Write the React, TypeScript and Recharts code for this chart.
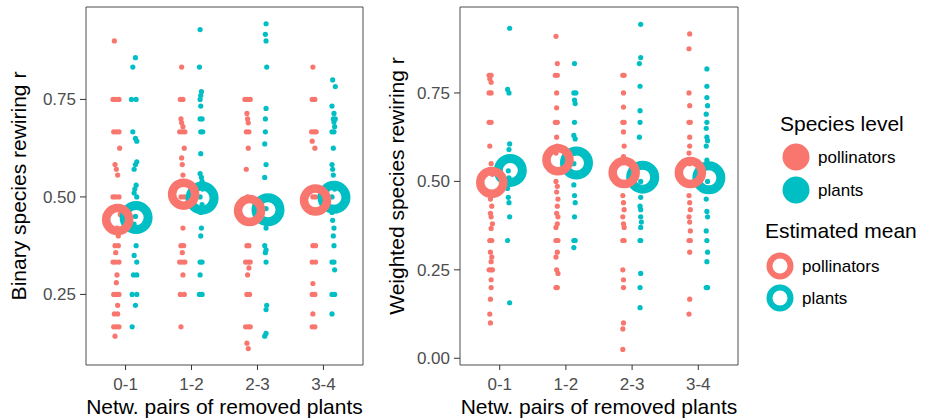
import React from "react";
import { ReferenceArea, Scatter, ScatterChart, XAxis, YAxis } from "recharts";

const pollColor = "#F8766D";
const plantColor = "#00BFC4";
const font = '"Liberation Sans", Arial, Helvetica, sans-serif';

const categories = ["0-1", "1-2", "2-3", "3-4"];
const binaryTicks = [0.25, 0.5, 0.75];
const weightedTicks = [0, 0.25, 0.5, 0.75];

// [category (1..4), rewiring r, horizontal jitter]
type Row = [number, number, number];

const binaryPollinators: Row[] = [
  [1, 0.9, -0.04], [1, 0.75, -0.06], [1, 0.75, -0.02], [1, 0.75, 0.03], [1, 0.667, -0.05], [1, 0.667, -0.01],
  [1, 0.667, 0.03], [1, 0.625, 0.04], [1, 0.583, -0.03], [1, 0.571, -0.01], [1, 0.556, 0.01], [1, 0.5, -0.06],
  [1, 0.5, -0.02], [1, 0.5, 0.03], [1, 0.455, 0.05], [1, 0.42, 0.0], [1, 0.4, 0.02], [1, 0.375, -0.03],
  [1, 0.375, 0.02], [1, 0.357, -0.02], [1, 0.333, -0.06], [1, 0.333, -0.02], [1, 0.333, 0.03], [1, 0.3, 0.0],
  [1, 0.28, -0.01], [1, 0.25, -0.05], [1, 0.25, -0.01], [1, 0.25, 0.03], [1, 0.222, 0.01], [1, 0.2, -0.04],
  [1, 0.2, 0.01], [1, 0.167, -0.05], [1, 0.167, -0.01], [1, 0.167, 0.03], [1, 0.143, -0.03],
  [2, 0.833, -0.02], [2, 0.75, -0.04], [2, 0.75, 0.0], [2, 0.7, -0.03], [2, 0.69, -0.02], [2, 0.68, 0.0],
  [2, 0.667, -0.05], [2, 0.667, -0.01], [2, 0.667, 0.03], [2, 0.625, 0.02], [2, 0.6, -0.02], [2, 0.583, -0.01],
  [2, 0.556, 0.0], [2, 0.5, -0.03], [2, 0.5, 0.02], [2, 0.42, 0.0], [2, 0.375, -0.03], [2, 0.375, 0.01],
  [2, 0.357, -0.01], [2, 0.333, -0.05], [2, 0.333, -0.01], [2, 0.333, 0.03], [2, 0.3, 0.0], [2, 0.25, -0.04],
  [2, 0.25, 0.02], [2, 0.167, -0.03],
  [3, 0.75, -0.06], [3, 0.75, -0.02], [3, 0.75, 0.02], [3, 0.714, -0.03], [3, 0.7, -0.02], [3, 0.69, -0.01],
  [3, 0.667, -0.04], [3, 0.667, 0.0], [3, 0.625, -0.01], [3, 0.571, -0.04], [3, 0.5, -0.02], [3, 0.375, -0.03],
  [3, 0.375, 0.0], [3, 0.333, -0.05], [3, 0.333, -0.01], [3, 0.333, 0.02], [3, 0.318, 0.0], [3, 0.3, -0.02],
  [3, 0.25, -0.03], [3, 0.25, 0.01], [3, 0.167, -0.05], [3, 0.167, -0.01], [3, 0.167, 0.02], [3, 0.125, -0.03],
  [3, 0.111, -0.01],
  [4, 0.833, -0.03], [4, 0.75, -0.04], [4, 0.75, 0.0], [4, 0.667, -0.05], [4, 0.667, -0.01], [4, 0.667, 0.02],
  [4, 0.643, -0.04], [4, 0.625, 0.0], [4, 0.5, -0.03], [4, 0.5, 0.01], [4, 0.375, -0.03], [4, 0.375, 0.01],
  [4, 0.333, -0.04], [4, 0.333, 0.01], [4, 0.278, -0.03], [4, 0.25, -0.04], [4, 0.25, 0.0], [4, 0.2, -0.03],
  [4, 0.167, -0.04], [4, 0.167, 0.0]
];

const binaryPlants: Row[] = [
  [1, 0.857, 0.02], [1, 0.833, -0.02], [1, 0.75, -0.04], [1, 0.75, 0.03], [1, 0.667, -0.02], [1, 0.65, 0.02],
  [1, 0.643, 0.04], [1, 0.59, 0.04], [1, 0.583, 0.02], [1, 0.571, 0.0], [1, 0.53, 0.03], [1, 0.52, 0.01],
  [1, 0.51, 0.0], [1, 0.5, 0.04], [1, 0.48, -0.01], [1, 0.45, 0.02], [1, 0.43, 0.0], [1, 0.375, 0.03],
  [1, 0.35, 0.0], [1, 0.333, 0.04], [1, 0.3, -0.01], [1, 0.3, 0.04], [1, 0.25, -0.03], [1, 0.25, 0.04],
  [1, 0.222, 0.02], [1, 0.167, -0.03],
  [2, 0.929, 0.0], [2, 0.833, -0.01], [2, 0.77, 0.02], [2, 0.76, 0.01], [2, 0.75, 0.0], [2, 0.733, 0.01],
  [2, 0.7, 0.0], [2, 0.7, 0.03], [2, 0.667, 0.01], [2, 0.667, 0.04], [2, 0.611, 0.01], [2, 0.56, 0.0],
  [2, 0.55, 0.02], [2, 0.54, 0.03], [2, 0.52, 0.04], [2, 0.5, 0.0], [2, 0.48, 0.03], [2, 0.46, 0.01],
  [2, 0.42, 0.02], [2, 0.4, 0.01], [2, 0.333, 0.0], [2, 0.333, 0.03], [2, 0.3, 0.0], [2, 0.25, -0.01],
  [2, 0.25, 0.03],
  [3, 0.944, 0.0], [3, 0.917, -0.01], [3, 0.9, 0.0], [3, 0.833, 0.01], [3, 0.727, 0.0], [3, 0.7, -0.01],
  [3, 0.667, -0.01], [3, 0.636, -0.02], [3, 0.583, 0.0], [3, 0.55, -0.02], [3, 0.5, -0.02], [3, 0.47, 0.0],
  [3, 0.44, -0.01], [3, 0.42, 0.0], [3, 0.375, -0.02], [3, 0.364, 0.0], [3, 0.357, -0.01], [3, 0.333, 0.0],
  [3, 0.222, 0.01], [3, 0.211, 0.0], [3, 0.15, 0.0], [3, 0.143, -0.02],
  [4, 0.8, 0.01], [4, 0.783, 0.05], [4, 0.733, 0.0], [4, 0.714, 0.03], [4, 0.7, 0.02], [4, 0.7, 0.05],
  [4, 0.692, 0.03], [4, 0.68, 0.04], [4, 0.667, 0.0], [4, 0.667, 0.03], [4, 0.625, 0.02], [4, 0.583, 0.0],
  [4, 0.571, 0.01], [4, 0.556, 0.02], [4, 0.52, 0.04], [4, 0.5, 0.0], [4, 0.46, 0.0], [4, 0.44, 0.01],
  [4, 0.42, 0.03], [4, 0.4, 0.02], [4, 0.375, 0.03], [4, 0.333, 0.0], [4, 0.333, 0.03], [4, 0.313, 0.04],
  [4, 0.25, 0.0], [4, 0.25, 0.04], [4, 0.2, 0.0]
];

const weightedPollinators: Row[] = [
  [1, 0.8, -0.03], [1, 0.8, 0.0], [1, 0.79, -0.02], [1, 0.78, 0.0], [1, 0.75, -0.03], [1, 0.75, 0.0],
  [1, 0.667, -0.03], [1, 0.667, 0.0], [1, 0.6, -0.02], [1, 0.55, 0.0], [1, 0.52, 0.02], [1, 0.47, 0.0],
  [1, 0.45, -0.01], [1, 0.43, 0.01], [1, 0.41, -0.01], [1, 0.4, 0.0], [1, 0.38, 0.02], [1, 0.367, 0.0],
  [1, 0.333, -0.02], [1, 0.333, 0.01], [1, 0.3, -0.01], [1, 0.286, 0.01], [1, 0.273, 0.0], [1, 0.25, -0.03],
  [1, 0.25, 0.0], [1, 0.25, 0.02], [1, 0.222, 0.0], [1, 0.2, 0.0], [1, 0.167, -0.01], [1, 0.125, -0.02],
  [1, 0.1, -0.01],
  [2, 0.91, -0.02], [2, 0.833, 0.0], [2, 0.8, -0.03], [2, 0.8, 0.0], [2, 0.75, -0.01], [2, 0.708, -0.01],
  [2, 0.667, -0.03], [2, 0.667, 0.0], [2, 0.625, -0.01], [2, 0.6, 0.0], [2, 0.58, -0.02], [2, 0.53, 0.01],
  [2, 0.5, -0.02], [2, 0.486, 0.0], [2, 0.47, -0.01], [2, 0.45, 0.01], [2, 0.43, 0.0], [2, 0.41, -0.01],
  [2, 0.4, 0.01], [2, 0.38, 0.0], [2, 0.37, -0.02], [2, 0.333, -0.02], [2, 0.333, 0.01], [2, 0.3, 0.0],
  [2, 0.286, -0.02], [2, 0.25, -0.01], [2, 0.24, 0.01], [2, 0.2, -0.02], [2, 0.2, 0.0],
  [3, 0.8, -0.01], [3, 0.8, 0.01], [3, 0.75, 0.0], [3, 0.71, 0.0], [3, 0.667, -0.01], [3, 0.667, 0.01],
  [3, 0.64, 0.0], [3, 0.6, 0.01], [3, 0.57, 0.0], [3, 0.46, -0.01], [3, 0.44, 0.0], [3, 0.42, 0.01],
  [3, 0.4, -0.01], [3, 0.38, 0.0], [3, 0.37, 0.01], [3, 0.333, -0.01], [3, 0.333, 0.01], [3, 0.25, -0.01],
  [3, 0.222, 0.0], [3, 0.2, 0.0], [3, 0.1, 0.0], [3, 0.083, -0.01], [3, 0.025, -0.01],
  [4, 0.917, 0.0], [4, 0.875, -0.01], [4, 0.75, -0.01], [4, 0.714, 0.0], [4, 0.667, -0.01], [4, 0.667, 0.01],
  [4, 0.625, 0.0], [4, 0.6, 0.0], [4, 0.58, -0.01], [4, 0.55, 0.0], [4, 0.46, -0.01], [4, 0.44, 0.0],
  [4, 0.42, 0.01], [4, 0.4, -0.01], [4, 0.385, 0.0], [4, 0.36, 0.01], [4, 0.333, -0.01], [4, 0.333, 0.01],
  [4, 0.3, 0.0], [4, 0.167, 0.0], [4, 0.125, -0.01]
];

const weightedPlants: Row[] = [
  [1, 0.933, 0.02], [1, 0.76, -0.01], [1, 0.75, 0.01], [1, 0.606, 0.02], [1, 0.59, 0.01], [1, 0.56, 0.03],
  [1, 0.53, 0.0], [1, 0.51, 0.01], [1, 0.48, -0.01], [1, 0.455, 0.0], [1, 0.44, 0.01], [1, 0.4, 0.02],
  [1, 0.333, -0.01], [1, 0.157, 0.02],
  [2, 0.833, 0.0], [2, 0.75, -0.01], [2, 0.75, 0.02], [2, 0.73, 0.0], [2, 0.72, 0.01], [2, 0.667, 0.0],
  [2, 0.63, -0.01], [2, 0.62, 0.01], [2, 0.58, 0.0], [2, 0.55, -0.01], [2, 0.52, 0.01], [2, 0.49, -0.01],
  [2, 0.46, 0.0], [2, 0.44, 0.01], [2, 0.4, 0.0], [2, 0.333, -0.01], [2, 0.333, 0.01], [2, 0.313, -0.01],
  [3, 0.944, 0.0], [3, 0.85, 0.0], [3, 0.833, -0.02], [3, 0.769, -0.01], [3, 0.7, -0.01], [3, 0.667, -0.01],
  [3, 0.625, -0.02], [3, 0.5, 0.0], [3, 0.455, 0.0], [3, 0.43, -0.01], [3, 0.42, 0.0], [3, 0.4, 0.0],
  [3, 0.385, 0.01], [3, 0.37, 0.0], [3, 0.333, -0.01], [3, 0.333, 0.0], [3, 0.24, 0.0], [3, 0.2, -0.01],
  [3, 0.143, -0.01],
  [4, 0.818, 0.0], [4, 0.769, 0.0], [4, 0.737, 0.0], [4, 0.714, 0.01], [4, 0.69, -0.01], [4, 0.667, 0.0],
  [4, 0.65, -0.01], [4, 0.625, 0.0], [4, 0.615, 0.01], [4, 0.6, -0.01], [4, 0.56, 0.0], [4, 0.5, 0.01],
  [4, 0.48, 0.0], [4, 0.45, -0.01], [4, 0.415, 0.0], [4, 0.4, 0.01], [4, 0.36, -0.01], [4, 0.333, 0.0],
  [4, 0.3, 0.01], [4, 0.273, 0.0], [4, 0.2, -0.01], [4, 0.2, 0.01]
];

// estimated means per category 0-1, 1-2, 2-3, 3-4
const binaryPollMeans = [0.442, 0.507, 0.465, 0.492];
const binaryPlantMeans = [0.447, 0.497, 0.467, 0.499];
const weightedPollMeans = [0.497, 0.561, 0.525, 0.525];
const weightedPlantMeans = [0.531, 0.552, 0.512, 0.51];

const pollDodge = -0.13;
const plantDodge = 0.13;
const pollMeanDodge = -0.12;
const plantMeanDodge = 0.16;

const toPoints = (rows: Row[], dodge: number) =>
  rows.map(([c, y, dx]) => ({ x: c + dodge + dx, y }));
const meanPoints = (means: number[], dodge: number) =>
  means.map((y, i) => ({ x: i + 1 + dodge, y }));

const Dot = (props: any) => <circle cx={props.cx} cy={props.cy} r={2.6} fill={props.fill} />;
const Ring = (color: string, r: number, w: number) => (props: any) => (
  <circle cx={props.cx} cy={props.cy} r={r} fill="none" stroke={color} strokeWidth={w} />
);

const tickStyle = { fill: "#4D4D4D", fontSize: 17, fontFamily: font };
const titleStyle = { fill: "#000", fontSize: 21, fontFamily: font };

const Panel = ({
  pollinators,
  plants,
  pollMeans,
  plantMeans,
  domain,
  ticks,
  yTitle,
  axisWidth,
  titleOffset,
  width
}: {
  pollinators: Row[];
  plants: Row[];
  pollMeans: number[];
  plantMeans: number[];
  domain: [number, number];
  ticks: number[];
  yTitle: string;
  axisWidth: number;
  titleOffset: number;
  width: number;
}) => {
  return (
    <ScatterChart width={width} height={419} margin={{ top: 7, right: 6, bottom: 0, left: 0 }}>
      <XAxis
        type="number"
        dataKey="x"
        domain={[0.4, 4.6]}
        ticks={[1, 2, 3, 4]}
        tickFormatter={(v) => categories[v - 1]}
        axisLine={false}
        tickLine={{ stroke: "#333" }}
        tickSize={5}
        tickMargin={8}
        tick={tickStyle}
        height={54}
        allowDataOverflow
        label={{ value: "Netw. pairs of removed plants", position: "insideBottom", offset: 5, style: titleStyle }}
      />
      <YAxis
        type="number"
        dataKey="y"
        domain={domain}
        ticks={ticks}
        tickFormatter={(v) => v.toFixed(2)}
        axisLine={false}
        tickLine={{ stroke: "#333" }}
        tickSize={6}
        tickMargin={4}
        tick={tickStyle}
        width={axisWidth}
        allowDataOverflow
        label={{
          value: yTitle,
          angle: -90,
          position: "insideLeft",
          offset: titleOffset,
          style: { ...titleStyle, textAnchor: "middle" }
        }}
      />
      <ReferenceArea
        x1={0.4}
        x2={4.6}
        y1={domain[0]}
        y2={domain[1]}
        fill="none"
        stroke="#4D4D4D"
        strokeWidth={1}
        ifOverflow="visible"
      />
      <Scatter data={toPoints(pollinators, pollDodge)} fill={pollColor} shape={Dot} isAnimationActive={false} />
      <Scatter data={toPoints(plants, plantDodge)} fill={plantColor} shape={Dot} isAnimationActive={false} />
      <Scatter
        data={meanPoints(plantMeans, plantMeanDodge)}
        fill="none"
        shape={Ring(plantColor, 12, 9)}
        isAnimationActive={false}
      />
      <Scatter
        data={meanPoints(pollMeans, pollMeanDodge)}
        fill="none"
        shape={Ring(pollColor, 11.5, 8.5)}
        isAnimationActive={false}
      />
    </ScatterChart>
  );
};

const LegendBox = () => (
  <svg width={926} height={419} style={{ position: "absolute", left: 0, top: 0, pointerEvents: "none" }}>
    <g fontFamily={font}>
      <text x={780} y={131} fontSize={21} fill="#000">Species level</text>
      <circle cx={796} cy={157} r={13.5} fill={pollColor} />
      <text x={818} y={163} fontSize={17} fill="#000">pollinators</text>
      <circle cx={796} cy={190} r={13.5} fill={plantColor} />
      <text x={818} y={196} fontSize={17} fill="#000">plants</text>
      <text x={765} y={238} fontSize={21} fill="#000">Estimated mean</text>
      <circle cx={780} cy={266} r={10.5} fill="none" stroke={pollColor} strokeWidth={6} />
      <text x={802} y={272} fontSize={17} fill="#000">pollinators</text>
      <circle cx={780} cy={298} r={10.5} fill="none" stroke={plantColor} strokeWidth={6} />
      <text x={802} y={304} fontSize={17} fill="#000">plants</text>
    </g>
  </svg>
);

export default function App() {
  return (
    <div style={{ position: "absolute", left: 0, top: 0, width: 926, height: 419, background: "#fff" }}>
      <div style={{ position: "absolute", left: 0, top: 0 }}>
        <Panel
          pollinators={binaryPollinators}
          plants={binaryPlants}
          pollMeans={binaryPollMeans}
          plantMeans={binaryPlantMeans}
          domain={[0.069, 0.987]}
          ticks={binaryTicks}
          yTitle="Binary species rewiring r"
          axisWidth={86}
          titleOffset={19}
          width={369}
        />
      </div>
      <div style={{ position: "absolute", left: 372, top: 0 }}>
        <Panel
          pollinators={weightedPollinators}
          plants={weightedPlants}
          pollMeans={weightedPollMeans}
          plantMeans={weightedPlantMeans}
          domain={[-0.019, 0.993]}
          ticks={weightedTicks}
          yTitle="Weighted species rewiring r"
          axisWidth={88}
          titleOffset={25}
          width={372}
        />
      </div>
      <LegendBox />
    </div>
  );
}
